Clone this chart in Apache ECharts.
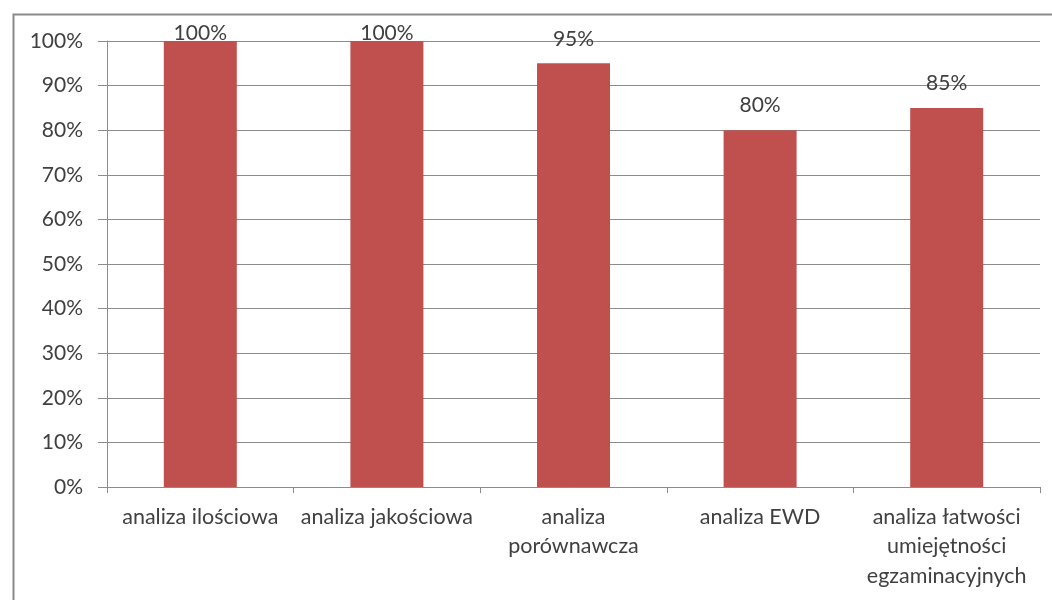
<!DOCTYPE html>
<html>
<head>
<meta charset="utf-8">
<script src="https://cdn.jsdelivr.net/npm/echarts@6/dist/echarts.min.js"></script>
<style>html,body{margin:0;padding:0;background:#fff}#c{width:1052px;height:600px}</style>
</head>
<body>
<div id="c"></div>
<script>
var categories = ['analiza ilościowa', 'analiza jakościowa', 'analiza\nporównawcza', 'analiza EWD', 'analiza łatwości\numiejętności\negzaminacyjnych'];
var values = [100, 100, 95, 80, 85];
var yTicks = [0, 10, 20, 30, 40, 50, 60, 70, 80, 90, 100];

var yMax = yTicks[yTicks.length - 1];
var barData = values.map(function (v) {
  // labels of bars reaching the top are kept inside the chart, as in the original
  return {value: v, label: {distance: v >= yMax ? -3 : 14}};
});

var chart = echarts.init(document.getElementById('c'), null, {renderer: 'canvas'});
chart.setOption({
  animation: false,
  backgroundColor: '#ffffff',
  graphic: [{
    type: 'rect', left: 11, top: 12,
    shape: {width: 1200, height: 800},
    style: {fill: 'none', stroke: '#8a8a8a', lineWidth: 2}
  }],
  grid: {left: 107, right: 12, top: 41, bottom: 113, containLabel: false},
  xAxis: {
    type: 'category',
    data: categories,
    axisLine: {lineStyle: {color: '#8c8c8c', width: 1}},
    axisTick: {show: true, length: 6, lineStyle: {color: '#8c8c8c'}},
    axisLabel: {color: '#404040', fontSize: 21.5, fontFamily: 'Lato', lineHeight: 29.5, margin: 15, interval: 0}
  },
  yAxis: {
    type: 'value',
    min: yTicks[0], max: yMax, interval: 10,
    axisLine: {show: true, lineStyle: {color: '#8c8c8c', width: 1}},
    axisTick: {show: true, length: 9, lineStyle: {color: '#8c8c8c'}},
    splitLine: {show: true, lineStyle: {color: '#8c8c8c', width: 1}},
    axisLabel: {color: '#404040', fontSize: 21, fontFamily: 'Lato', margin: 24, formatter: '{value}%'}
  },
  series: [{
    type: 'bar',
    data: barData,
    barWidth: 73,
    itemStyle: {color: '#C0504D'},
    label: {show: true, position: 'top', formatter: '{c}%', color: '#404040', fontSize: 21, fontFamily: 'Lato'}
  }]
});
</script>
</body>
</html>
